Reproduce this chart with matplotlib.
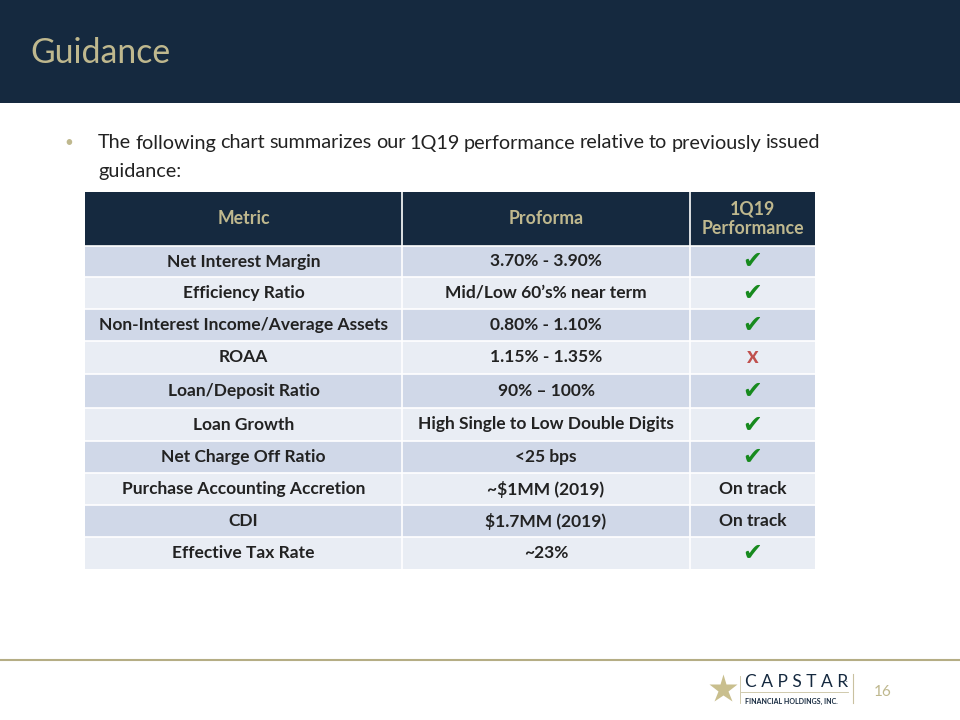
import matplotlib
matplotlib.use("Agg")
import matplotlib.pyplot as plt
from matplotlib.patches import Rectangle

plt.rcParams['font.family'] = ['Lato', 'DejaVu Sans']

# table content
metrics = ["Net Interest Margin", "Efficiency Ratio", "Non-Interest Income/Average Assets",
           "ROAA", "Loan/Deposit Ratio", "Loan Growth", "Net Charge Off Ratio",
           "Purchase Accounting Accretion", "CDI", "Effective Tax Rate"]
proforma = ["3.70% - 3.90%", "Mid/Low 60\u2019s% near term", "0.80% - 1.10%", "1.15% - 1.35%",
            "90% \u2013 100%", "High Single to Low Double Digits", "<25 bps",
            "~$1MM (2019)", "$1.7MM (2019)", "~23%"]
status = ["check", "check", "check", "miss", "check", "check", "check",
          "On track", "On track", "check"]
headers = ["Metric", "Proforma", "1Q19\nPerformance"]

navy = "#15293F"
tan = "#BFB88E"
row_a = "#D0D8E8"
row_b = "#E9EDF4"
dark = "#222222"

fig = plt.figure(figsize=(9.6, 7.2), dpi=100)
ax = fig.add_axes([0, 0, 1, 1])
ax.set_xlim(0, 960)
ax.set_ylim(720, 0)
ax.axis("off")

# header band
ax.add_patch(Rectangle((0, 0), 960, 103, color=navy, lw=0))
ax.text(30, 53, "Guidance", color=tan, fontsize=24.3, va="center", ha="left")

# bullet text, justified by hand
ax.text(64, 143, "\u2022", color=tan, fontsize=11, va="center", ha="left")
line1 = "The following chart summarizes our 1Q19 performance relative to previously issued".split()
fig.canvas.draw()
r = fig.canvas.get_renderer()
objs = []
for w in line1:
    t = ax.text(0, 143, w, fontsize=14.3, color=dark, va="center", ha="left")
    objs.append(t)
widths = [t.get_window_extent(r).width for t in objs]
x0, x1 = 98, 820
gap = (x1 - x0 - sum(widths)) / (len(objs) - 1)
x = x0
for t, wd in zip(objs, widths):
    t.set_x(x)
    x += wd + gap
ax.text(98, 171, "guidance:", fontsize=14.3, color=dark, va="center", ha="left")

# table
col_x = [85, 402, 690, 815]
row_y = [192, 246, 277, 309, 341, 374, 408, 441, 473, 505, 537, 569]

ax.add_patch(Rectangle((col_x[0], row_y[0]), col_x[-1] - col_x[0], row_y[1] - row_y[0],
                       color=navy, lw=0))
for j, h in enumerate(headers):
    cx = (col_x[j] + col_x[j + 1]) / 2
    cy = (row_y[0] + row_y[1]) / 2
    ax.text(cx, cy, h, color=tan, fontsize=12.8, fontweight="bold", ha="center", va="center",
            linespacing=1.2)

for i in range(len(metrics)):
    y0, y1 = row_y[i + 1], row_y[i + 2]
    ax.add_patch(Rectangle((col_x[0], y0), col_x[-1] - col_x[0], y1 - y0,
                           color=row_a if i % 2 == 0 else row_b, lw=0))
    cy = (y0 + y1) / 2
    ax.text((col_x[0] + col_x[1]) / 2, cy, metrics[i], color=dark, fontsize=12.5,
            fontweight="bold", ha="center", va="center")
    ax.text((col_x[1] + col_x[2]) / 2, cy, proforma[i], color=dark, fontsize=12.5,
            fontweight="bold", ha="center", va="center")
    cx = (col_x[2] + col_x[3]) / 2
    if status[i] == "check":
        ax.text(cx, cy, "\u2714", color="#178A1E", fontsize=17, ha="center", va="center",
                family="DejaVu Sans")
    elif status[i] == "miss":
        ax.text(cx, cy - 1, "x", color="#C0504D", fontsize=16, fontweight="bold",
                ha="center", va="center")
    else:
        ax.text(cx, cy, status[i], color=dark, fontsize=12.5, fontweight="bold",
                ha="center", va="center")

# white grid lines
for y in row_y[1:-1]:
    ax.plot([col_x[0], col_x[-1]], [y, y], color="white", lw=1.2)
for xv in col_x[1:-1]:
    ax.plot([xv, xv], [row_y[0], row_y[-1]], color="white", lw=1.2)

# footer
ax.plot([0, 960], [660, 660], color="#B5AD85", lw=1.5)
ax.plot(723, 689, marker="*", markersize=21, color="#C9BF8E", mec="none")
ax.plot([740, 740], [676, 703], color="#C9C1A0", lw=0.6)
ax.text(745, 682, "C A P S T A R", color=navy, fontsize=12.5, ha="left", va="center")
ax.plot([741, 848], [692, 692], color="#C9C1A0", lw=0.6)
ax.text(745, 701, "FINANCIAL HOLDINGS, INC.", color=navy, fontsize=5,
        fontweight="bold", ha="left", va="center")
ax.text(846, 679, ".", color=navy, fontsize=5, ha="left", va="center")
ax.plot([853, 853], [674, 703], color="#C9C1A0", lw=0.8)
ax.text(883, 692, "16", color=tan, fontsize=11, ha="center", va="center")

fig.savefig("out.png", dpi=100)
